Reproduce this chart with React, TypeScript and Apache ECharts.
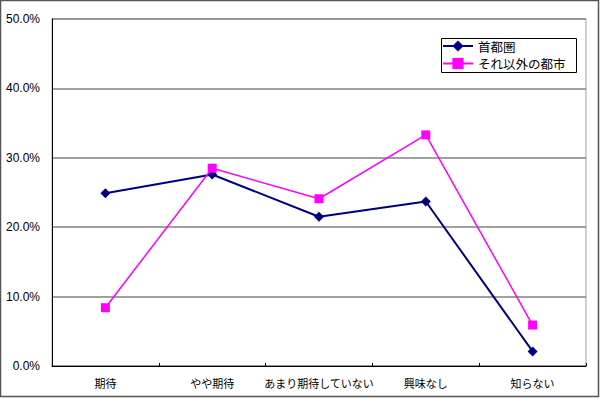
import React, { useEffect, useRef } from "react";
import * as echarts from "echarts";

const categories = ["期待", "やや期待", "あまり期待していない", "興味なし", "知らない"];
const seriesNames = ["首都圏", "それ以外の都市"];
const shutoken = [24.9, 27.6, 21.5, 23.7, 2.1];
const others = [8.4, 28.5, 24.1, 33.3, 5.9];
const yTicks = { min: 0, max: 50, interval: 10 };

export default function App() {
  const ref = useRef<HTMLDivElement>(null);
  useEffect(() => {
    if (!ref.current) return;
    const chart = echarts.init(ref.current, null, { renderer: "svg" });
    chart.setOption({
      animation: false,
      backgroundColor: "#ffffff",
      grid: { left: 52, top: 19, right: 14, bottom: 32, show: true, borderColor: "#a0a0a0", borderWidth: 1 },
      legend: {
        orient: "vertical",
        left: 442,
        top: 39,
        padding: 0,
        itemWidth: 30,
        itemHeight: 14,
        itemGap: 3.5,
        textStyle: { fontFamily: "Noto Sans CJK JP", fontSize: 12.5, lineHeight: 14, color: "#000" },
        data: seriesNames,
      },
      graphic: [
        { type: "rect", shape: { x: 441.5, y: 38.5, width: 135, height: 34 }, style: { fill: "none", stroke: "#000", lineWidth: 1 }, z: 100 },
        { type: "rect", shape: { x: 0.5, y: 0.5, width: 598, height: 396 }, style: { fill: "none", stroke: "#555", lineWidth: 1.5 }, z: 100 },
      ],
      xAxis: {
        type: "category",
        data: categories,
        boundaryGap: true,
        axisLine: { lineStyle: { color: "#000", width: 1 } },
        axisTick: { show: true, inside: true, length: 3, interval: 0, lineStyle: { color: "#000" } },
        axisLabel: { interval: 0, margin: 11, fontFamily: "Noto Sans CJK JP", fontSize: 11, color: "#000" },
      },
      yAxis: {
        type: "value",
        min: yTicks.min,
        max: yTicks.max,
        interval: yTicks.interval,
        axisLine: { show: true, lineStyle: { color: "#000", width: 1 } },
        axisTick: { show: false },
        splitLine: { lineStyle: { color: "#808080", width: 1.5 } },
        axisLabel: {
          margin: 12,
          fontFamily: "Liberation Sans",
          fontSize: 12,
          color: "#000",
          formatter: (v: number) => v.toFixed(1) + "%",
        },
      },
      series: [
        {
          name: seriesNames[0],
          type: "line",
          data: shutoken,
          symbol: "diamond",
          symbolSize: 10,
          lineStyle: { color: "#000080", width: 2 },
          itemStyle: { color: "#000080" },
          z: 3,
        },
        {
          name: seriesNames[1],
          type: "line",
          data: others,
          symbol: "rect",
          symbolSize: 9,
          lineStyle: { color: "#ff00ff", width: 1.5 },
          itemStyle: { color: "#ff00ff" },
          z: 4,
        },
      ],
    });
    return () => chart.dispose();
  }, []);
  return <div ref={ref} style={{ position: "absolute", left: 0, top: 0, width: 600, height: 398 }} />;
}
